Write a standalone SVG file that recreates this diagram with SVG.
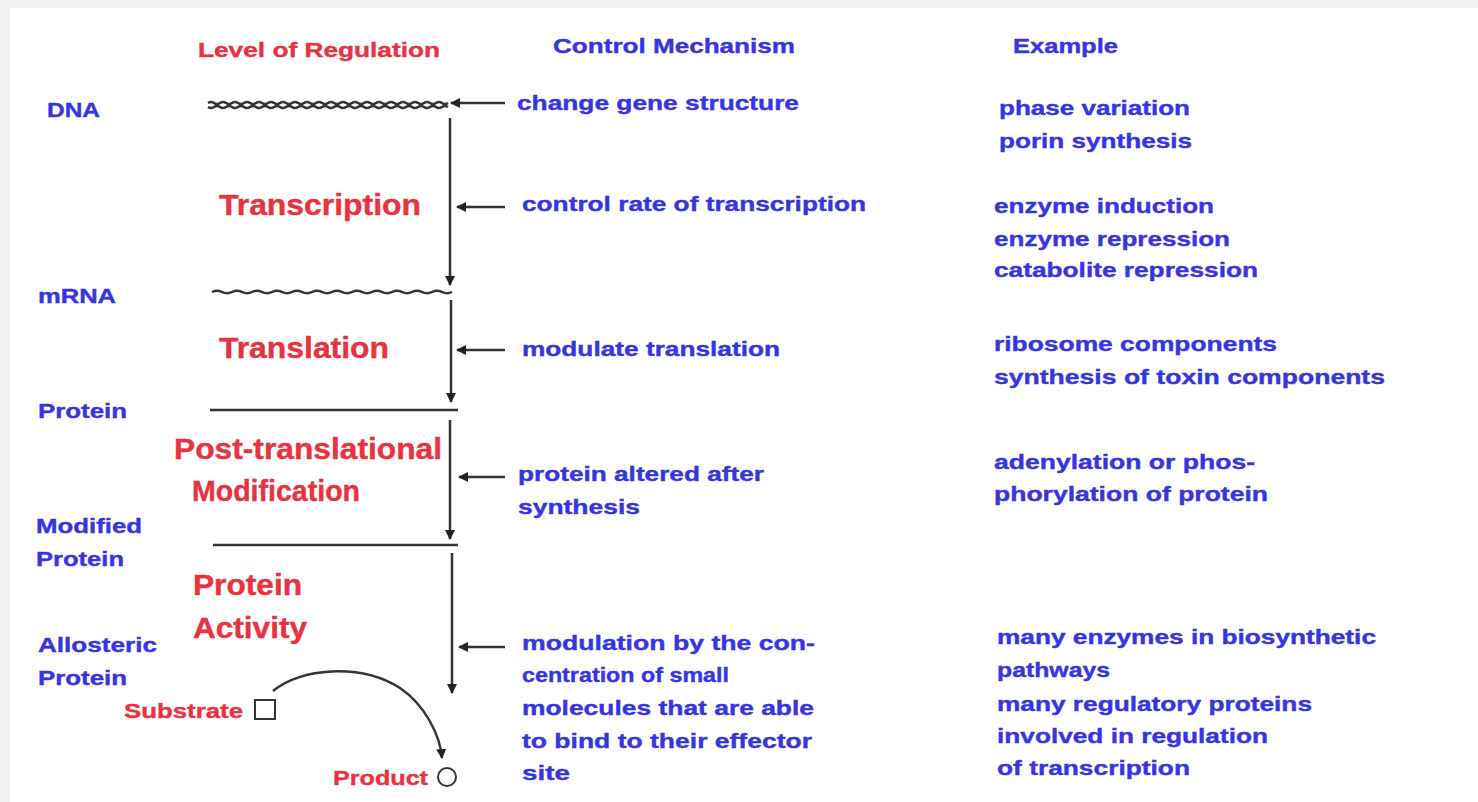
<svg xmlns="http://www.w3.org/2000/svg" width="1478" height="802" viewBox="0 0 1478 802">
<style>
text{font-family:"Liberation Sans",Arial,sans-serif;font-weight:bold}
.b{fill:#3535e0;font-size:21px;stroke:#3535e0;stroke-width:0.4}
.r{fill:#e8333f;font-size:21px;stroke:#e8333f;stroke-width:0.4}
.R{fill:#e8333f;font-size:29px;stroke:#e8333f;stroke-width:0.4}
.ln{stroke:#333;stroke-width:2.5;fill:none}
.ar{stroke:#333;stroke-width:2.5;fill:none;marker-end:url(#ah)}
</style>
<defs>
<marker id="ah" viewBox="0 0 10 10" refX="9" refY="5" markerWidth="4" markerHeight="4" orient="auto" markerUnits="strokeWidth">
<path d="M0,0 L10,5 L0,10 z" fill="#222"/>
</marker>
</defs>
<rect x="0" y="0" width="1478" height="802" fill="#f0f0f0"/>
<rect x="10" y="8" width="1468" height="794" fill="#ffffff"/>

<g id="headers">
<text class="r" x="198" y="57" textLength="242" lengthAdjust="spacingAndGlyphs">Level of Regulation</text>
<text class="b" x="553" y="53" textLength="242" lengthAdjust="spacingAndGlyphs">Control Mechanism</text>
<text class="b" x="1013" y="53" textLength="105" lengthAdjust="spacingAndGlyphs">Example</text>
</g>

<g id="level-labels">
<text class="b" x="47" y="117" textLength="53" lengthAdjust="spacingAndGlyphs">DNA</text>
<text class="b" x="38" y="303" textLength="78" lengthAdjust="spacingAndGlyphs">mRNA</text>
<text class="b" x="38" y="418" textLength="89" lengthAdjust="spacingAndGlyphs">Protein</text>
<text class="b" x="36" y="533" textLength="106" lengthAdjust="spacingAndGlyphs">Modified</text>
<text class="b" x="36" y="566" textLength="88" lengthAdjust="spacingAndGlyphs">Protein</text>
<text class="b" x="38" y="652" textLength="119" lengthAdjust="spacingAndGlyphs">Allosteric</text>
<text class="b" x="38" y="685" textLength="89" lengthAdjust="spacingAndGlyphs">Protein</text>
</g>

<g id="process-labels">
<text class="R" x="219" y="215" textLength="202" lengthAdjust="spacingAndGlyphs">Transcription</text>
<text class="R" x="219" y="358" textLength="170" lengthAdjust="spacingAndGlyphs">Translation</text>
<text class="R" x="174" y="459" textLength="268" lengthAdjust="spacingAndGlyphs">Post-translational</text>
<text class="R" x="192" y="501" textLength="168" lengthAdjust="spacingAndGlyphs">Modification</text>
<text class="R" x="193" y="595" textLength="109" lengthAdjust="spacingAndGlyphs">Protein</text>
<text class="R" x="193" y="638" textLength="114" lengthAdjust="spacingAndGlyphs">Activity</text>
</g>

<g id="mechanisms">
<text class="b" x="517" y="110" textLength="282" lengthAdjust="spacingAndGlyphs">change gene structure</text>
<text class="b" x="522" y="211" textLength="344" lengthAdjust="spacingAndGlyphs">control rate of transcription</text>
<text class="b" x="522" y="356" textLength="258" lengthAdjust="spacingAndGlyphs">modulate translation</text>
<text class="b" x="518" y="481" textLength="246" lengthAdjust="spacingAndGlyphs">protein altered after</text>
<text class="b" x="518" y="514" textLength="122" lengthAdjust="spacingAndGlyphs">synthesis</text>
<text class="b" x="522" y="650" textLength="293" lengthAdjust="spacingAndGlyphs">modulation by the con-</text>
<text class="b" x="522" y="682" textLength="207" lengthAdjust="spacingAndGlyphs">centration of small</text>
<text class="b" x="522" y="715" textLength="292" lengthAdjust="spacingAndGlyphs">molecules that are able</text>
<text class="b" x="522" y="748" textLength="290" lengthAdjust="spacingAndGlyphs">to bind to their effector</text>
<text class="b" x="522" y="780" textLength="48" lengthAdjust="spacingAndGlyphs">site</text>
</g>

<g id="examples">
<text class="b" x="999" y="115" textLength="191" lengthAdjust="spacingAndGlyphs">phase variation</text>
<text class="b" x="999" y="148" textLength="193" lengthAdjust="spacingAndGlyphs">porin synthesis</text>
<text class="b" x="994" y="213" textLength="220" lengthAdjust="spacingAndGlyphs">enzyme induction</text>
<text class="b" x="994" y="246" textLength="236" lengthAdjust="spacingAndGlyphs">enzyme repression</text>
<text class="b" x="994" y="277" textLength="264" lengthAdjust="spacingAndGlyphs">catabolite repression</text>
<text class="b" x="994" y="351" textLength="283" lengthAdjust="spacingAndGlyphs">ribosome components</text>
<text class="b" x="994" y="384" textLength="391" lengthAdjust="spacingAndGlyphs">synthesis of toxin components</text>
<text class="b" x="994" y="469" textLength="261" lengthAdjust="spacingAndGlyphs">adenylation or phos-</text>
<text class="b" x="994" y="501" textLength="274" lengthAdjust="spacingAndGlyphs">phorylation of protein</text>
<text class="b" x="997" y="644" textLength="379" lengthAdjust="spacingAndGlyphs">many enzymes in biosynthetic</text>
<text class="b" x="997" y="677" textLength="113" lengthAdjust="spacingAndGlyphs">pathways</text>
<text class="b" x="997" y="711" textLength="315" lengthAdjust="spacingAndGlyphs">many regulatory proteins</text>
<text class="b" x="997" y="743" textLength="271" lengthAdjust="spacingAndGlyphs">involved in regulation</text>
<text class="b" x="997" y="775" textLength="193" lengthAdjust="spacingAndGlyphs">of transcription</text>
</g>

<g id="dna">
<path class="ln" stroke="#555" stroke-width="1.6" d="M208,103 q3,-2 6,0 t6,0 t6,0 t6,0 t6,0 t6,0 t6,0 t6,0 t6,0 t6,0 t6,0 t6,0 t6,0 t6,0 t6,0 t6,0 t6,0 t6,0 t6,0 t6,0 t6,0 t6,0 t6,0 t6,0 t6,0 t6,0 t6,0 t6,0 t6,0 t6,0 t6,0 t6,0 t6,0 t6,0 t6,0 t6,0 t6,0 t6,0 t6,0 t6,0"/>
<path class="ln" stroke="#555" stroke-width="1.6" d="M208,107 q3,2 6,0 t6,0 t6,0 t6,0 t6,0 t6,0 t6,0 t6,0 t6,0 t6,0 t6,0 t6,0 t6,0 t6,0 t6,0 t6,0 t6,0 t6,0 t6,0 t6,0 t6,0 t6,0 t6,0 t6,0 t6,0 t6,0 t6,0 t6,0 t6,0 t6,0 t6,0 t6,0 t6,0 t6,0 t6,0 t6,0 t6,0 t6,0 t6,0 t6,0"/>
</g>
<g id="mrna">
<path class="ln" stroke="#555" stroke-width="1.8" d="M212,292 q5,-2.5 10,0 t10,0 t10,0 t10,0 t10,0 t10,0 t10,0 t10,0 t10,0 t10,0 t10,0 t10,0 t10,0 t10,0 t10,0 t10,0 t10,0 t10,0 t10,0 t10,0 t10,0 t10,0 t10,0 t10,0"/>
</g>
<g id="protein">
<line class="ln" x1="210" y1="410" x2="458" y2="410"/>
</g>
<g id="modified-protein">
<line class="ln" x1="213" y1="545" x2="458" y2="545"/>
</g>
<g id="substrate">
<rect x="255" y="700" width="20" height="19" fill="#fff" stroke="#333" stroke-width="2"/>
<text class="r" x="124" y="718" textLength="119" lengthAdjust="spacingAndGlyphs">Substrate</text>
</g>
<g id="product">
<circle cx="447" cy="777" r="9" fill="#fff" stroke="#333" stroke-width="2"/>
<text class="r" x="333" y="785" textLength="95" lengthAdjust="spacingAndGlyphs">Product</text>
</g>

<g id="connectors">
<line class="ar" x1="450" y1="118" x2="450" y2="285"/>
<line class="ar" x1="451" y1="300" x2="451" y2="402"/>
<line class="ar" x1="450" y1="420" x2="450" y2="539"/>
<line class="ar" x1="452" y1="553" x2="452" y2="693"/>
<line class="ar" x1="505" y1="103" x2="451" y2="103"/>
<line class="ar" x1="505" y1="207" x2="457" y2="207"/>
<line class="ar" x1="505" y1="350" x2="457" y2="350"/>
<line class="ar" x1="505" y1="477" x2="459" y2="477"/>
<line class="ar" x1="505" y1="647" x2="459" y2="647"/>
<path class="ar" stroke-width="2" d="M273,691 C300,668 360,663 400,688 C425,705 440,735 442,758"/>
</g>
</svg>
